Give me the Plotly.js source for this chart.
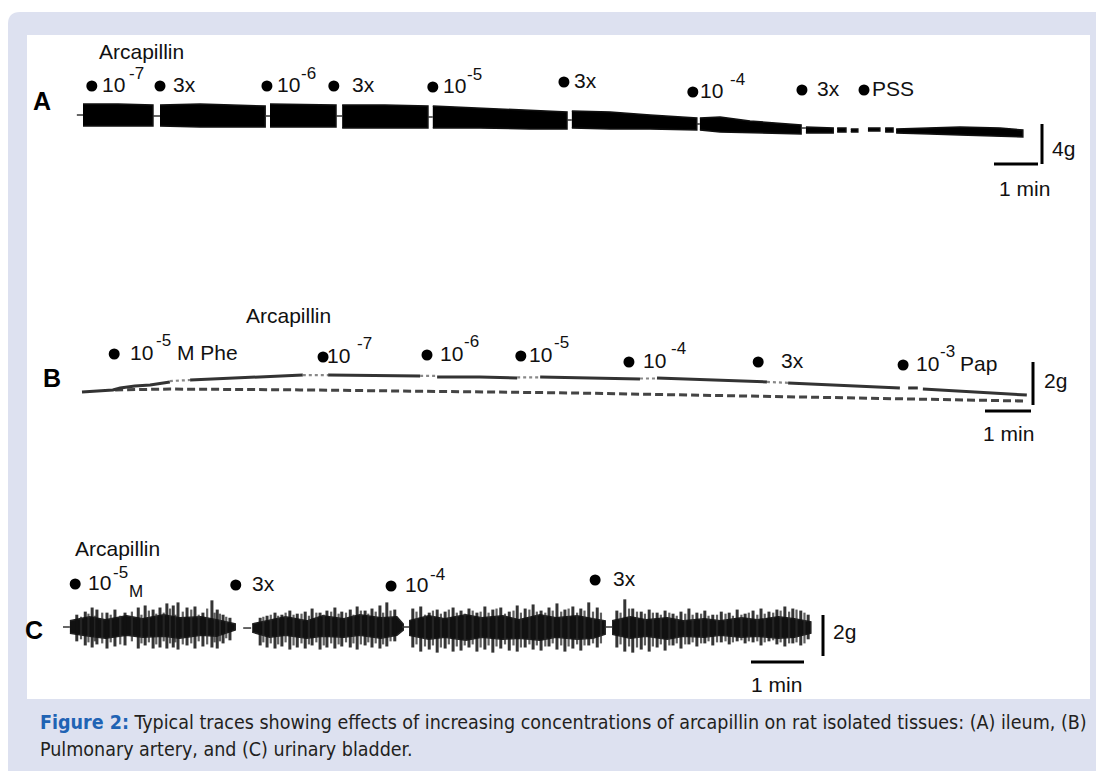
<!DOCTYPE html>
<html><head><meta charset="utf-8">
<script src="https://cdn.plot.ly/plotly-3.0.1.min.js"></script>
<style>html,body{margin:0;padding:0;background:#fff}#chart{width:1096px;height:771px}</style>
</head><body><div id="chart"></div>
<script>
// ================= DATA (time in min, tension in g) =================
// Panel A: ileum – envelope of the contraction band, segments separated by null
const aBandT   = [0,0.80,1.59,null, 1.75,2.66,4.14,null, 4.25,5.75,null, 5.89,6.86,7.84,null,
                  7.95,9.02,10.16,11.00,null, 11.11,11.98,12.89,13.95,null, 14.02,14.48,15.16,16.32,null,
                  16.43,17.05,null, 17.14,17.34,null, 17.45,17.61,null, 17.84,18.11,null, 18.23,18.41,null,
                  18.48,19.25,19.93,20.84,21.36];
const aBandTop = [2.8,2.8,2.7,null, 2.7,2.8,2.6,null, 2.8,2.7,null, 2.7,2.7,2.6,null,
                  2.6,2.4,2.2,2.0,null, 2.1,2.0,1.7,1.4,null, 1.4,1.5,1.1,0.7,null,
                  0.5,0.4,null, 0.4,0.4,null, 0.3,0.3,null, 0.4,0.4,null, 0.4,0.4,null,
                  0.3,0.4,0.5,0.4,0.2];
const aBandBot = [0.6,0.6,0.6,null, 0.6,0.5,0.5,null, 0.5,0.5,null, 0.4,0.4,0.4,null,
                  0.4,0.4,0.3,0.3,null, 0.4,0.3,0.3,0.2,null, 0.2,0.0,-0.1,-0.2,null,
                  -0.1,-0.1,null, 0.0,0.0,null, 0.0,0.0,null, 0.1,0.1,null, 0.0,0.0,null,
                  -0.1,-0.2,-0.3,-0.4,-0.5];
const aPenT = [-0.14,0,null, 1.59,1.75,null, 4.14,4.25,null, 5.75,5.89,null, 7.84,7.95,null, 11.00,11.11,null, 13.95,14.02,null, 16.32,16.43];
const aPenY = [1.7,1.7,null, 1.6,1.6,null, 1.6,1.6,null, 1.6,1.6,null, 1.5,1.5,null, 1.2,1.2,null, 0.8,0.8,null, 0.4,0.4];
const aDoseT    = [0.20,1.75,4.18,5.70,7.95,10.93,13.86,16.34,17.75];
const aDoseBase = ['10','3x','10','3x','10','3x','10','3x','PSS'];
const aDoseExp  = ['-7','','-6','','-5','','-4','',''];
const aDoseTail = ['','','','','','','','',''];
const aScale = {min: 1, g: 4};

// Panel B: pulmonary artery
const bSolidT = [0,0.39,0.67,0.83,1.15,1.48,1.91,null, 2.35,3.22,4.09,4.80,null, 5.35,6.48,7.35,null,
                 7.72,8.65,9.46,null, 9.96,11.26,12.13,null, 12.50,13.65,14.89,null, 15.35,16.70,17.78,null,
                 17.96,18.17,null, 18.28,19.52,20.54];
const bSolidY = [0.37,0.42,0.47,0.56,0.65,0.70,0.84,null, 0.93,1.02,1.12,1.16,null, 1.16,1.12,1.12,null,
                 1.07,1.07,1.02,null, 1.07,1.02,0.98,null, 1.02,0.93,0.84,null, 0.79,0.65,0.56,null,
                 0.56,0.56,null, 0.51,0.37,0.23];
const bDotT = [1.91,2.35,null, 4.80,5.35,null, 7.35,7.72,null, 9.46,9.96,null, 12.13,12.50,null, 14.89,15.35];
const bDotY = [0.88,0.93,null, 1.16,1.16,null, 1.12,1.12,null, 1.05,1.05,null, 1.00,1.00,null, 0.84,0.80];
const bDashT = [0.72,1.91,4.74,10.61,15.61,20.54];
const bDashY = [0.47,0.51,0.47,0.33,0.14,-0.05];
const bDoseT    = [0.70,5.24,7.50,9.54,11.89,14.70,17.85];
const bDoseBase = ['10','10','10','10','10','3x','10'];
const bDoseExp  = ['-5','-7','-6','-5','-4','','-3'];
const bDoseTail = ['M Phe','','','','','','Pap'];
const bScale = {min: 1, g: 2};

// Panel C: urinary bladder – dense core band + phasic spikes
const cCoreT   = [0.13,0.5,0.8,1.2,1.5,1.9,2.2,2.6,2.9,3.25,null, 3.57,3.9,4.2,4.6,4.9,5.3,5.6,6.0,6.3,6.42,null,
                  6.53,6.9,7.2,7.6,7.9,8.3,8.6,9.0,9.3,9.7,10.0,10.23,null, 10.36,10.7,11.0,11.4,11.7,12.1,12.4,12.8,13.1,13.5,13.8,14.11];
const cCoreTop = [0.3,0.5,0.35,0.55,0.4,0.6,0.45,0.5,0.35,0.15,null, 0.15,0.35,0.5,0.3,0.55,0.4,0.6,0.45,0.5,0.15,null,
                  0.3,0.55,0.4,0.6,0.45,0.55,0.35,0.6,0.45,0.55,0.4,0.3,null, 0.3,0.5,0.35,0.45,0.3,0.4,0.3,0.45,0.35,0.5,0.4,0.25];
const cCoreBot = [-0.3,-0.45,-0.55,-0.4,-0.5,-0.45,-0.55,-0.4,-0.45,-0.15,null, -0.25,-0.5,-0.4,-0.55,-0.45,-0.5,-0.4,-0.55,-0.4,-0.15,null,
                  -0.4,-0.6,-0.5,-0.65,-0.5,-0.6,-0.55,-0.65,-0.5,-0.6,-0.55,-0.35,null, -0.35,-0.55,-0.45,-0.6,-0.45,-0.5,-0.4,-0.5,-0.45,-0.55,-0.5,-0.3];
const cPenT = [0,0.13,null, 3.40,3.55,null, 6.40,6.53,null, 10.23,10.36];
const cPenY = [0,0,null, -0.05,-0.05,null, 0,0,null, 0,0];
// main phasic contractions
const cSpikeT  = [0.26,0.42,0.55,0.64,0.83,0.98,1.17,1.42,1.55,1.70,1.83,1.96,2.08,2.17,2.34,2.49,2.64,2.81,2.91,3.02,3.15,
                  3.72,3.85,4.00,4.13,4.28,4.42,4.57,4.70,4.85,4.98,5.13,5.26,5.42,5.55,5.70,5.83,5.98,6.11,6.26,
                  6.60,6.75,6.91,7.06,7.21,7.36,7.51,7.66,7.81,7.96,8.11,8.26,8.42,8.57,8.72,8.87,9.02,9.17,9.32,9.47,9.62,9.77,9.92,10.08,
                  10.45,10.60,10.75,10.91,11.06,11.21,11.36,11.51,11.66,11.81,11.96,12.11,12.26,12.42,12.57,12.72,12.87,13.02,13.17,13.32,13.47,13.62,13.77,13.92,14.06];
const cSpikeHi = [0.6,0.75,0.95,0.85,0.7,0.85,0.7,0.95,1.05,0.85,0.95,1.15,1.05,1.2,0.95,1.0,0.7,1.3,0.85,0.6,0.45,
                  0.45,0.55,0.7,0.6,0.8,0.65,0.75,0.9,0.7,0.8,0.95,0.75,0.85,1.0,0.8,0.9,1.05,1.2,0.85,
                  0.9,1.0,0.7,0.85,0.75,0.95,0.8,0.9,0.7,1.0,0.85,0.95,0.75,1.05,0.9,1.1,0.8,0.95,1.15,0.85,1.0,0.9,1.2,0.95,
                  0.8,1.35,0.9,0.75,0.85,0.7,0.8,0.65,0.75,0.9,0.7,0.8,0.6,0.75,0.7,0.85,0.65,0.8,0.9,0.75,0.85,1.0,0.9,0.8,0.6];
const cSpikeLo = [-0.7,-0.9,-1.0,-0.85,-1.05,-0.95,-0.9,-1.05,-0.9,-1.05,-1.0,-1.05,-1.0,-1.1,-0.9,-1.05,-0.95,-1.0,-1.05,-0.8,-0.65,
                  -0.9,-1.0,-1.05,-0.95,-1.1,-1.0,-1.05,-0.9,-1.1,-1.0,-1.05,-0.95,-1.0,-1.1,-0.9,-1.0,-1.05,-0.95,-0.7,
                  -1.0,-1.2,-1.1,-1.25,-1.05,-1.2,-1.15,-1.0,-1.2,-1.1,-1.25,-1.05,-1.15,-1.2,-1.0,-1.1,-1.15,-0.95,-1.1,-1.2,-1.05,-1.15,-0.9,-1.0,
                  -1.0,-1.2,-1.25,-1.1,-1.2,-1.0,-1.15,-0.9,-1.05,-0.85,-0.95,-0.8,-0.9,-0.75,-0.85,-0.7,-0.8,-0.75,-0.9,-0.7,-0.85,-0.95,-0.8,-0.9,-0.6];
// smaller interleaved contractions
const cMinorT  = [0.34,0.48,0.60,0.74,0.90,1.08,1.30,1.48,1.62,1.76,1.90,2.02,2.12,2.26,2.42,2.56,2.72,2.86,2.96,3.08,
                  3.78,3.92,4.06,4.20,4.35,4.50,4.64,4.78,4.92,5.06,5.20,5.34,5.48,5.62,5.76,5.90,6.04,6.18,
                  6.67,6.83,6.98,7.13,7.28,7.43,7.58,7.73,7.88,8.03,8.18,8.34,8.50,8.64,8.80,8.94,9.10,9.24,9.40,9.54,9.70,9.84,10.00,10.15,
                  10.52,10.68,10.83,10.98,11.13,11.28,11.44,11.58,11.74,11.88,12.04,12.18,12.34,12.50,12.64,12.80,12.94,13.10,13.24,13.40,13.54,13.70,13.84,13.99];
const cMinorHi = [0.5,0.65,0.55,0.7,0.6,0.55,0.75,0.6,0.8,0.65,0.7,0.9,0.6,0.75,0.85,0.6,0.9,0.7,0.65,0.5,
                  0.5,0.6,0.55,0.7,0.6,0.65,0.55,0.7,0.6,0.75,0.65,0.7,0.6,0.8,0.65,0.75,0.7,0.8,
                  0.75,0.6,0.8,0.65,0.85,0.7,0.65,0.8,0.75,0.7,0.9,0.65,0.8,0.7,0.85,0.75,0.7,0.8,0.75,0.9,0.7,0.8,0.75,0.7,
                  0.7,0.9,0.75,0.65,0.7,0.6,0.7,0.55,0.65,0.6,0.65,0.55,0.6,0.65,0.55,0.6,0.7,0.6,0.65,0.7,0.8,0.75,0.85,0.7];
const cMinorLo = [-0.6,-0.75,-0.7,-0.8,-0.75,-0.85,-0.7,-0.8,-0.75,-0.85,-0.7,-0.8,-0.75,-0.85,-0.8,-0.7,-0.85,-0.75,-0.7,-0.55,
                  -0.75,-0.8,-0.85,-0.75,-0.9,-0.8,-0.85,-0.75,-0.9,-0.8,-0.85,-0.75,-0.8,-0.85,-0.75,-0.8,-0.85,-0.7,
                  -0.85,-0.95,-0.9,-1.0,-0.85,-0.95,-0.9,-0.85,-1.0,-0.9,-0.95,-0.85,-0.9,-1.0,-0.85,-0.9,-0.95,-0.8,-0.9,-0.95,-0.85,-0.9,-0.8,-0.8,
                  -0.85,-0.95,-1.0,-0.9,-0.95,-0.85,-0.9,-0.8,-0.85,-0.75,-0.8,-0.7,-0.75,-0.7,-0.75,-0.65,-0.7,-0.7,-0.75,-0.65,-0.75,-0.8,-0.75,-0.8];
const cDoseT    = [0.23,3.26,6.19,10.04];
const cDoseBase = ['10','3x','10','3x'];
const cDoseExp  = ['-5','','-4',''];
const cDoseTail = ['M','','',''];
const cScale = {min: 1, g: 2};

const drugName = 'Arcapillin';
const panelLetters = ['A','B','C'];
const captionHead = 'Figure 2:';
const captionLine1 = ' Typical traces showing effects of increasing concentrations of arcapillin on rat isolated tissues: (A) ileum, (B)';
const captionLine2 = 'Pulmonary artery, and (C) urinary bladder.';

// ================= LAYOUT GEOMETRY (pixels) =================
const W = 1096, H = 771;
const geo = {
  A: {x0: 83, ppm: 44, y0: 132, ppg: 10,  ax: 'x',  ay: 'y',
      doseRow: [86,86,86,86,87,82,92,90,90], labelGap: [8,11,8,16,8,8,5,13,6],
      expGap: [4,0,1,0,1,0,7,0,0], expRise: 11, tailGap: [0,0,0,0,0,0,0,0,0], tailShift: 0,
      vbar: {x: 1042, bottom: 164}, hbar: {right: 1038, y: 164},
      gTxt: [1063,148], minTxt: [1024,188], drug: [141,52], letter: [42,101]},
  B: {x0: 82, ppm: 46, y0: 400, ppg: 21.5, ax: 'x2', ay: 'y2',
      doseRow: [354,357,355,356,362,362,365], labelGap: [14,2,11,6,12,21,11],
      expGap: [2,7,1,2,5,0,1], expRise: 12, tailGap: [6,0,0,0,0,0,4], tailShift: 0,
      vbar: {x: 1033, bottom: 405}, hbar: {right: 1031, y: 411},
      gTxt: [1055,380], minTxt: [1008,433], drug: [288,315], letter: [52,378]},
  C: {x0: 63, ppm: 53, y0: 627, ppg: 20.5, ax: 'x3', ay: 'y3',
      doseRow: [584,585,586,580], labelGap: [11,14,12,16],
      expGap: [1,0,2,0], expRise: 10, tailGap: [1,0,0,0], tailShift: -9,
      vbar: {x: 823, bottom: 656}, hbar: {right: 804, y: 662},
      gTxt: [844,631], minTxt: [776,684], drug: [117,548], letter: [34,630]}
};
const tOf = (g, px) => (px - g.x0) / g.ppm;
const vOf = (g, py) => (g.y0 - py) / g.ppg;
const PX = px => px / W, PY = py => 1 - py / H;

const FONT = 'Liberation Sans, Arial, sans-serif';
const LBL = {family: FONT, size: 21, color: '#111'};
const EXP = {family: FONT, size: 17, color: '#111'};

const cv = document.createElement('canvas').getContext('2d');
function tw(str, f) { cv.font = f.size + 'px ' + f.family; return cv.measureText(str).width; }

// build filled band polygons from segment arrays
function bandPoly(T, top, bot) {
  const xs = [], ys = [];
  let seg = [];
  const flush = () => {
    if (!seg.length) return;
    seg.forEach(i => { xs.push(T[i]); ys.push(top[i]); });
    seg.slice().reverse().forEach(i => { xs.push(T[i]); ys.push(bot[i]); });
    xs.push(null); ys.push(null); seg = [];
  };
  T.forEach((t, i) => { if (t === null) flush(); else seg.push(i); });
  flush();
  return {x: xs, y: ys};
}
function spikes(T, lo, hi) {
  const xs = [], ys = [];
  T.forEach((t, i) => { xs.push(t, t, null); ys.push(lo[i], hi[i], null); });
  return {x: xs, y: ys};
}

const traces = [];
const annotations = [];
const shapes = [];

// ---- Panel A ----
const aPoly = bandPoly(aBandT, aBandTop, aBandBot);
traces.push({x: aPoly.x, y: aPoly.y, xaxis: 'x', yaxis: 'y', mode: 'lines', fill: 'toself',
  fillcolor: '#000', line: {color: '#111', width: 1.5}, hoverinfo: 'skip'});
traces.push({x: aPenT, y: aPenY, xaxis: 'x', yaxis: 'y', mode: 'lines', line: {color: '#333', width: 1.5}, hoverinfo: 'skip'});

// ---- Panel B ----
traces.push({x: bDashT, y: bDashY, xaxis: 'x2', yaxis: 'y2', mode: 'lines', line: {color: '#444', width: 3, dash: '8px,4px'}, hoverinfo: 'skip'});
traces.push({x: bSolidT, y: bSolidY, xaxis: 'x2', yaxis: 'y2', mode: 'lines', line: {color: '#333', width: 3}, hoverinfo: 'skip'});
traces.push({x: bDotT, y: bDotY, xaxis: 'x2', yaxis: 'y2', mode: 'lines', line: {color: '#888', width: 2.2, dash: '3px,3px'}, hoverinfo: 'skip'});

// ---- Panel C ----
const cPoly = bandPoly(cCoreT, cCoreTop, cCoreBot);
traces.push({x: cPoly.x, y: cPoly.y, xaxis: 'x3', yaxis: 'y3', mode: 'lines', fill: 'toself',
  fillcolor: '#111', line: {color: '#222', width: 1.5}, hoverinfo: 'skip'});
const sp2 = spikes(cMinorT, cMinorLo, cMinorHi);
traces.push({x: sp2.x, y: sp2.y, xaxis: 'x3', yaxis: 'y3', mode: 'lines', line: {color: '#2a2a2a', width: 2.2}, opacity: 0.75, hoverinfo: 'skip'});
const sp1 = spikes(cSpikeT, cSpikeLo, cSpikeHi);
traces.push({x: sp1.x, y: sp1.y, xaxis: 'x3', yaxis: 'y3', mode: 'lines', line: {color: '#111', width: 3}, opacity: 0.85, hoverinfo: 'skip'});
traces.push({x: cPenT, y: cPenY, xaxis: 'x3', yaxis: 'y3', mode: 'lines', line: {color: '#333', width: 1.5}, hoverinfo: 'skip'});

// ---- dose markers, labels, scale bars ----
const panels = [
  {g: geo.A, doseT: aDoseT, base: aDoseBase, exp: aDoseExp, tail: aDoseTail, scale: aScale},
  {g: geo.B, doseT: bDoseT, base: bDoseBase, exp: bDoseExp, tail: bDoseTail, scale: bScale},
  {g: geo.C, doseT: cDoseT, base: cDoseBase, exp: cDoseExp, tail: cDoseTail, scale: cScale}
];
panels.forEach((p, k) => {
  const g = p.g;
  traces.push({x: p.doseT, y: g.doseRow.map(r => vOf(g, r)), xaxis: g.ax, yaxis: g.ay, mode: 'markers',
    marker: {symbol: 'circle', size: 11, color: '#000'}, hoverinfo: 'skip'});
  p.doseT.forEach((t, i) => {
    const y = vOf(g, g.doseRow[i]);
    const common = {x: t, y: y, xref: g.ax, yref: g.ay, showarrow: false, xanchor: 'left', yanchor: 'middle'};
    let off = g.labelGap[i];
    annotations.push(Object.assign({}, common, {text: p.base[i], xshift: off, yshift: 2, font: LBL}));
    off += tw(p.base[i], LBL);
    if (p.exp[i]) {
      off += g.expGap[i];
      annotations.push(Object.assign({}, common, {text: p.exp[i], xshift: off, yshift: 2 + g.expRise, font: EXP}));
      off += tw(p.exp[i], EXP);
    }
    if (p.tail[i]) {
      off += g.tailGap[i];
      annotations.push(Object.assign({}, common, {text: p.tail[i], xshift: off, yshift: 2 + g.tailShift,
        font: p.exp[i] && k === 2 ? EXP : LBL}));
    }
  });
  // scale bars in data units
  const vx = tOf(g, g.vbar.x), vb = vOf(g, g.vbar.bottom);
  shapes.push({type: 'line', xref: g.ax, yref: g.ay, x0: vx, x1: vx, y0: vb, y1: vb + p.scale.g, line: {color: '#000', width: 3}});
  const hr = tOf(g, g.hbar.right), hy = vOf(g, g.hbar.y);
  shapes.push({type: 'line', xref: g.ax, yref: g.ay, x0: hr - p.scale.min, x1: hr, y0: hy, y1: hy, line: {color: '#000', width: 3}});
  const c = {xref: 'paper', yref: 'paper', xanchor: 'center', yanchor: 'middle', showarrow: false, font: LBL};
  annotations.push(Object.assign({}, c, {x: PX(g.gTxt[0]), y: PY(g.gTxt[1]), text: p.scale.g + 'g'}));
  annotations.push(Object.assign({}, c, {x: PX(g.minTxt[0]), y: PY(g.minTxt[1]), text: p.scale.min + ' min'}));
  annotations.push(Object.assign({}, c, {x: PX(g.drug[0]), y: PY(g.drug[1]), text: drugName}));
  annotations.push(Object.assign({}, c, {x: PX(g.letter[0]), y: PY(g.letter[1]), text: '<b>' + panelLetters[k] + '</b>',
    font: {family: FONT, size: 25, color: '#000'}}));
});

// caption
const CAP = {family: "'Liberation Sans Narrow', 'DejaVu Sans Condensed', 'Liberation Sans', sans-serif", size: 19.5, color: '#231f20'};
annotations.push({x: PX(38), y: PY(722), xref: 'paper', yref: 'paper', xanchor: 'left', yanchor: 'middle', showarrow: false, font: CAP,
  text: '<b><span style="color:#1f63b4">' + captionHead + '</span></b>' + captionLine1});
annotations.push({x: PX(38), y: PY(749), xref: 'paper', yref: 'paper', xanchor: 'left', yanchor: 'middle', showarrow: false, font: CAP,
  text: captionLine2});

// backgrounds (paper coords)
const r = 12;
shapes.unshift(
  {type: 'path', xref: 'paper', yref: 'paper', layer: 'below', fillcolor: '#dde1f0', line: {width: 0},
   path: `M ${PX(8)},${PY(775)} L ${PX(8)},${PY(12 + r)} Q ${PX(8)},${PY(12)} ${PX(8 + r)},${PY(12)} L ${PX(1100)},${PY(12)} L ${PX(1100)},${PY(775)} Z`},
  {type: 'rect', xref: 'paper', yref: 'paper', layer: 'below', fillcolor: '#ffffff', line: {width: 0},
   x0: PX(27), x1: PX(1090), y0: PY(699), y1: PY(35)}
);

const layout = {
  width: W, height: H, margin: {l: 0, r: 0, t: 0, b: 0},
  paper_bgcolor: '#ffffff', plot_bgcolor: 'rgba(0,0,0,0)', showlegend: false,
  shapes: shapes, annotations: annotations
};
[['A', ''], ['B', '2'], ['C', '3']].forEach(([k, s]) => {
  const g = geo[k];
  layout['xaxis' + s] = {domain: [0, 1], range: [tOf(g, 0), tOf(g, W)], visible: false, fixedrange: true, anchor: 'y' + s};
  layout['yaxis' + s] = {domain: [0, 1], range: [vOf(g, H), vOf(g, 0)], visible: false, fixedrange: true, anchor: 'x' + s};
});

Plotly.newPlot('chart', traces, layout, {displayModeBar: false});
</script></body></html>
